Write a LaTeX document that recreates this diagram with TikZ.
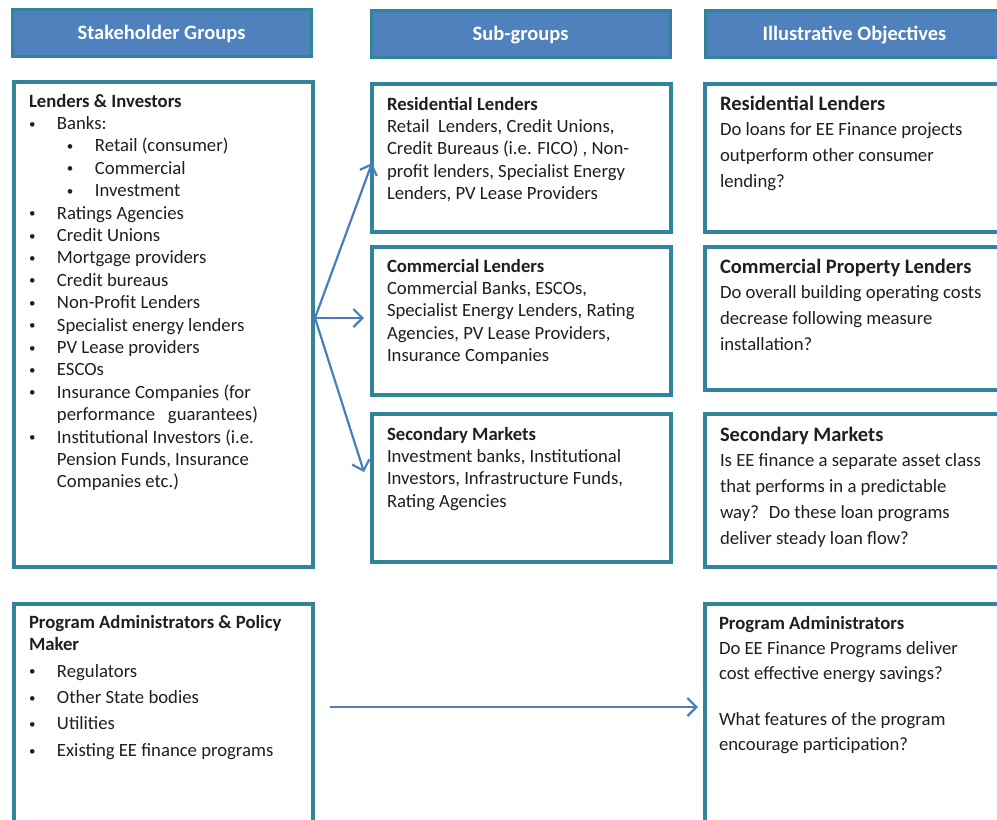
\documentclass[tikz,border=0pt]{standalone}
\usepackage{fontspec}
\setmainfont{Carlito}
\usetikzlibrary{arrows.meta}
\definecolor{boxteal}{RGB}{49,132,155}
\definecolor{headblue}{RGB}{79,129,189}
\definecolor{arrblue}{RGB}{74,126,187}
\newcommand{\bulletdot}{\raisebox{1.5pt}{\fontsize{13}{13}\selectfont\textbullet}}
\newcommand{\bl}{\makebox[28pt][l]{\hspace*{0pt}\bulletdot}}
\newcommand{\sbl}{\hspace*{38pt}\makebox[28pt][l]{\bulletdot}}
\newcommand{\cnt}{\hspace*{28pt}}

\begin{document}
\begin{tikzpicture}[x=1pt, y=-1pt,
  every node/.style={inner sep=0pt, outer sep=0pt},
  head/.style={draw=boxteal, line width=3pt, fill=headblue, text=white, anchor=north west,
    minimum width=299pt, minimum height=47pt, text height=16pt, text depth=2pt,
    font=\fontsize{20.5}{24}\selectfont\bfseries},
  panel/.style={draw=boxteal, line width=3.5pt, fill=white, anchor=north west, minimum width=299pt},
  body/.style={anchor=north west, align=left, text=black!88, font=\fontsize{18.7}{22.4}\selectfont},
  bigbody/.style={body, font=\fontsize{18.7}{26}\selectfont},
  arr/.style={draw=arrblue, line width=2.2pt, -{Straight Barb[length=9pt,width=18pt]}}]
\useasboundingbox (0,0) rectangle (997,820);
\clip (0,0) rectangle (997,820);

% column headers
\node[head] (hdrgrp) at (12,9) {Stakeholder Groups};
\node[head] (hdrsub) at (371,10) {Sub-groups};
\node[head] (hdrobj) at (705,10) {Illustrative Objectives};

% stakeholder groups
\node[panel, minimum height=485pt] (lend) at (14,82) {};
\node[panel, minimum height=240pt] (prog) at (14,604) {};
\node[body] (lendtxt) at (29,94) {\textbf{Lenders \& Investors}\\
  \bl Banks:\\
  \sbl Retail (consumer)\\
  \sbl Commercial\\
  \sbl Investment\\
  \bl Ratings Agencies\\
  \bl Credit Unions\\
  \bl Mortgage providers\\
  \bl Credit bureaus\\
  \bl Non-Profit Lenders\\
  \bl Specialist energy lenders\\
  \bl PV Lease providers\\
  \bl ESCOs\\
  \bl Insurance Companies (for\\
  \cnt performance~~ guarantees)\\
  \bl Institutional Investors (i.e.\\
  \cnt Pension Funds, Insurance\\
  \cnt Companies etc.)};
\node[body] (progtxt) at (29,615) {\textbf{Program Administrators \& Policy}\\
  \textbf{Maker}\\[4.5pt]
  \bl Regulators\\[3.8pt]
  \bl Other State bodies\\[3.8pt]
  \bl Utilities\\[4.5pt]
  \bl Existing EE finance programs};

% sub-groups
\node[panel, minimum height=148pt] (res) at (372,84) {};
\node[panel, minimum height=148pt] (com) at (372,247) {};
\node[panel, minimum height=148pt] (sec) at (372,414) {};
\node[body] (restxt) at (387,97) {\textbf{Residential Lenders}\\
  Retail~ Lenders, Credit Unions,\\
  Credit Bureaus (i.e. FICO) , Non-\\
  profit lenders, Specialist Energy\\
  Lenders, PV Lease Providers};
\node[body] (comtxt) at (387,259) {\textbf{Commercial Lenders}\\
  Commercial Banks, ESCOs,\\
  Specialist Energy Lenders, Rating\\
  Agencies, PV Lease Providers,\\
  Insurance Companies};
\node[body] (sectxt) at (387,427) {\textbf{Secondary Markets}\\
  Investment banks, Institutional\\
  Investors, Infrastructure Funds,\\
  Rating Agencies};

% objectives
\node[panel, minimum height=148pt] (resobj) at (705,84) {};
\node[panel, minimum height=143pt] (comobj) at (705,247) {};
\node[panel, minimum height=153pt] (secobj) at (705,414) {};
\node[panel, minimum height=240pt] (progobj) at (705,604) {};
\node[bigbody] (resobjtxt) at (720,96) {{\fontsize{20.5}{26}\selectfont\bfseries Residential Lenders}\\[-1pt]
  Do loans for EE Finance projects\\
  outperform other consumer\\
  lending?};
\node[bigbody] (comobjtxt) at (720,259) {{\fontsize{20.5}{26}\selectfont\bfseries Commercial Property Lenders}\\[-1pt]
  Do overall building operating costs\\
  decrease following measure\\
  installation?};
\node[bigbody] (secobjtxt) at (720,427) {{\fontsize{20.5}{26}\selectfont\bfseries Secondary Markets}\\[-1pt]
  Is EE finance a separate asset class\\
  that performs in a predictable\\
  way?~ Do these loan programs\\
  deliver steady loan flow?};
\node[body, font=\fontsize{18.7}{25}\selectfont] (progobjtxt) at (719,616) {\textbf{Program Administrators}\\
  Do EE Finance Programs deliver\\
  cost effective energy savings?\\[21pt]
  What features of the program\\
  encourage participation?};

% connectors
\coordinate (fork) at (315,318);
\coordinate (progout) at (330,707);
\draw[arr] (fork) -- ([yshift=-5pt]res.west);
\draw[arr] (fork) -- ([xshift=-8pt]fork -| com.west);
\draw[arr] (fork) -- ([xshift=-8pt,yshift=16pt]sec.west);
\draw[arr] (progout) -- ([xshift=-7pt]progout -| progobj.west);
\end{tikzpicture}
\end{document}
